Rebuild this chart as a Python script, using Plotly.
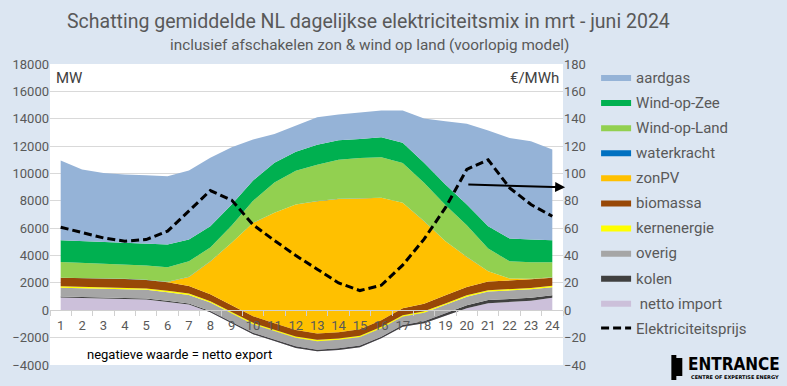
import plotly.graph_objects as go

hours = list(range(1, 25))

netto_import = [930, 900, 870, 850, 780, 610, 420, -150, -950, -1750, -2250, -2750,
                -3000, -2900, -2700, -2050, -1200, -950, -400, 150, 520, 580, 690, 920]
kolen = [80, 80, 80, 80, 80, 80, 80, 90, 100, 110, 110, 120,
         120, 120, 120, 120, 120, 150, 180, 220, 230, 230, 220, 170]
overig = [640, 640, 640, 640, 640, 630, 620, 620, 620, 620, 620, 620,
          620, 620, 620, 620, 620, 620, 620, 620, 620, 620, 620, 600]
kernenergie = [100, 100, 100, 100, 100, 100, 100, 100, 100, 100, 100, 100,
               100, 100, 100, 100, 100, 100, 100, 100, 100, 100, 100, 100]
biomassa = [620, 640, 630, 620, 620, 620, 560, 520, 500, 480, 470, 460,
            460, 460, 470, 480, 500, 560, 600, 620, 630, 640, 630, 590]
zonPV = [0, 0, 0, 0, 0, 30, 660, 2390, 4560, 6830, 8070, 9180,
         9670, 9740, 9560, 8950, 7710, 6030, 3940, 2190, 750, 150, 40, 20]
waterkracht = [10, 10, 10, 10, 10, 10, 10, 10, 10, 10, 10, 10,
               10, 10, 10, 10, 10, 10, 10, 10, 10, 10, 10, 10]
wind_op_land = [1140, 1100, 1090, 1050, 1050, 1070, 1140, 1000, 1250, 1600, 2200, 2450,
                2650, 2850, 2950, 2950, 2900, 2800, 2650, 2300, 1650, 1250, 1200, 1100]
wind_op_zee = [1590, 1580, 1590, 1610, 1630, 1660, 1590, 1570, 1550, 1490, 1450, 1400,
               1470, 1420, 1380, 1470, 1490, 1460, 1500, 1530, 1640, 1670, 1670, 1600]
aardgas = [5830, 5230, 5030, 4960, 4960, 4990, 5030, 4990, 4180, 2990, 2110, 1930,
           2010, 1890, 1920, 1950, 2350, 3230, 4620, 5890, 6990, 7350, 7170, 6640]
prijs = [60.7, 56.6, 52.9, 50.5, 51.7, 57.8, 72.4, 87.5, 80.5, 62.5, 51, 40,
         30, 20, 14.4, 18.3, 33, 52, 75, 103, 110, 89.5, 77.3, 68.7]

# arrow annotation (hour, €/MWh)
arrow_from = (20, 91.9)
arrow_to = (24.6, 89.9)

FONT = "Liberation Sans Narrow, Arial Narrow, Roboto, sans-serif"
GREY = "#595959"

series = [
    (" netto import", netto_import, "#CCC0DA", 10),
    ("kolen", kolen, "#404040", 9),
    ("overig", overig, "#A6A6A6", 8),
    ("kernenergie", kernenergie, "#FFFF00", 7),
    ("biomassa", biomassa, "#984807", 6),
    ("zonPV", zonPV, "#FFC000", 5),
    ("waterkracht", waterkracht, "#0070C0", 4),
    ("Wind-op-Land", wind_op_land, "#92D050", 3),
    ("Wind-op-Zee", wind_op_zee, "#00B050", 2),
    ("aardgas", aardgas, "#95B3D7", 1),
]

fig = go.Figure()
for name, vals, col, rank in series:
    fig.add_trace(go.Scatter(
        x=hours, y=vals, name=name, mode="lines", stackgroup="mix",
        line=dict(width=0, color=col), fillcolor=col,
        legendrank=rank, legendgroup=name,
    ))

fig.add_trace(go.Scatter(
    x=hours, y=prijs, name="Elektriciteitsprijs", mode="lines", yaxis="y2",
    line=dict(color="black", width=3, dash="8px,4px"),
    legendrank=11, legendgroup="prijs",
))

fig.update_layout(
    width=787, height=386,
    margin=dict(l=47, r=224, t=64, b=21),
    paper_bgcolor="#DCE6F2", plot_bgcolor="white",
    font=dict(family=FONT, color=GREY, size=13),
    showlegend=True,
    legend=dict(
        x=1.0645, y=1.011, xanchor="left", yanchor="top",
        bgcolor="rgba(0,0,0,0)", font=dict(size=15, color=GREY),
        traceorder="grouped", tracegroupgap=2.6, itemwidth=30, maxheight=500,
    ),
    xaxis=dict(
        range=[0.5, 24.5], tickvals=hours, ticktext=[str(h) for h in hours],
        anchor="free", position=4000 / 22000,
        showline=True, linecolor="#D0D0D0", linewidth=1,
        showgrid=False, zeroline=False,
        ticks="outside", ticklen=3, tickcolor="rgba(0,0,0,0)",
        tickfont=dict(size=13, color=GREY),
        minor=dict(tick0=0.5, dtick=1, ticks="outside", ticklen=5,
                   tickcolor="#D0D0D0", showgrid=False),
    ),
    yaxis=dict(
        range=[-4000, 18000], dtick=2000, tickformat="d", showgrid=True, gridcolor="#D9D9D9",
        zeroline=False, showline=False, ticks="", tickfont=dict(size=13, color=GREY),
    ),
    yaxis2=dict(
        range=[-40, 180], dtick=20, tickformat="d", overlaying="y", side="right",
        showgrid=False, zeroline=False, showline=False, ticks="",
        tickfont=dict(size=13, color=GREY),
    ),
)

ann = [
    dict(text="Schatting gemiddelde NL dagelijkse elektriciteitsmix in mrt - juni 2024",
         x=367, y=21, font=dict(size=19.5, color=GREY)),
    dict(text="inclusief afschakelen zon & wind op land (voorlopig model)",
         x=368, y=45, font=dict(size=15.3, color=GREY)),
]
for a in ann:
    fig.add_annotation(text=a["text"], xref="paper", yref="paper",
                       x=(a["x"] - 47) / 516, y=(365 - a["y"]) / 301,
                       xanchor="center", yanchor="middle", showarrow=False, font=a["font"])

fig.add_annotation(text="MW", xref="paper", yref="paper", x=(51 - 47) / 516, y=(365 - 78) / 301,
                   xanchor="left", yanchor="middle", showarrow=False,
                   font=dict(size=15, color="#404040"))
fig.add_annotation(text="€/MWh", xref="paper", yref="paper", x=(561 - 47) / 516, y=(365 - 78) / 301,
                   xanchor="right", yanchor="middle", showarrow=False,
                   font=dict(size=15, color="#404040"))
fig.add_annotation(text="negatieve waarde = netto export", xref="paper", yref="paper",
                   x=(177 - 47) / 516, y=(365 - 354) / 301, xanchor="center", yanchor="middle",
                   showarrow=False, font=dict(size=13, color="black"))

fig.add_annotation(x=arrow_to[0], y=arrow_to[1], xref="x", yref="y2",
                   ax=arrow_from[0], ay=arrow_from[1], axref="x", ayref="y2",
                   text="", showarrow=True, arrowhead=2, arrowsize=1, arrowwidth=2,
                   arrowcolor="black")

# logo
fig.add_annotation(text="<b>ENTRANCE</b>", xref="paper", yref="paper",
                   x=(735 - 47) / 516, y=(365 - 364) / 301, xanchor="center", yanchor="middle",
                   showarrow=False, font=dict(family="DejaVu Sans Condensed, DejaVu Sans", size=17, color="black"))
fig.add_annotation(text="<b>CENTRE OF EXPERTISE ENERGY</b>", xref="paper", yref="paper",
                   x=(736 - 47) / 516, y=(365 - 377) / 301, xanchor="center", yanchor="middle",
                   showarrow=False, font=dict(family="DejaVu Sans", size=5, color="black"))
fig.add_shape(type="path", xref="paper", yref="paper",
              path=("M {x0},{y0} L {x1},{y0} L {x1},{y2} L {x2},{y2} L {x2},{y3} "
                    "L {x1},{y3} L {x1},{y1} L {x0},{y1} Z").format(
                  x0=(672 - 47) / 516, x1=(677 - 47) / 516, x2=(683 - 47) / 516,
                  y0=(365 - 355) / 301, y1=(365 - 380) / 301,
                  y2=(365 - 358) / 301, y3=(365 - 376) / 301),
              fillcolor="black", line=dict(width=0))

fig.write_html("out.html", config={"displayModeBar": False},
               post_script="document.body.style.margin='0';document.body.style.padding='0';")
